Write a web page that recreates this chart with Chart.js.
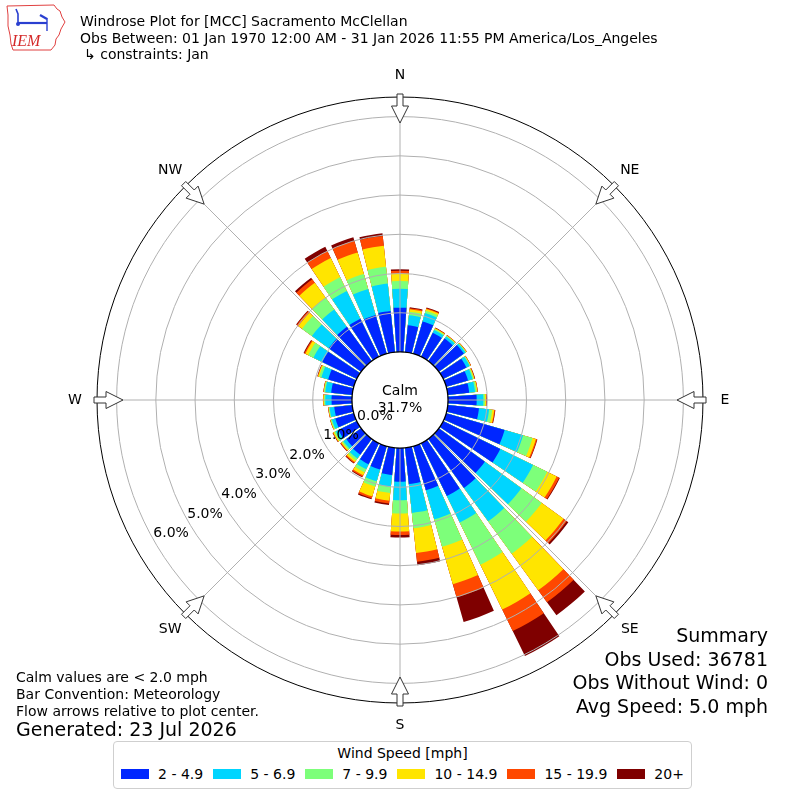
<!DOCTYPE html>
<html>
<head>
<meta charset="utf-8">
<script src="https://cdn.jsdelivr.net/npm/chart.js@4/dist/chart.umd.min.js"></script>
<style>
html,body{margin:0;padding:0;background:#fff;}
body{width:800px;height:800px;position:relative;overflow:hidden;font-family:"DejaVu Sans",sans-serif;color:#000;}
#wrap{position:absolute;left:0;top:0;width:800px;height:800px;}
.t{position:absolute;white-space:nowrap;}
#legend{position:absolute;left:113px;top:741px;width:579px;height:48px;border:1px solid #cfcfcf;border-radius:4px;box-sizing:border-box;background:#fff;}
#legend .title{font-size:14px;line-height:16px;text-align:center;margin-top:3px;}
#legend .items{display:flex;justify-content:center;align-items:center;margin-top:5px;font-size:14px;line-height:16px;gap:10px;}
#legend .it{display:flex;align-items:center;}
#legend .sw{width:28px;height:10px;margin-right:9px;}
</style>
</head>
<body>
<div id="wrap"><canvas id="c"></canvas></div>

<svg class="t" style="left:0;top:0" width="72" height="54" viewBox="0 0 72 54">
  <polygon points="7,6 54,5 57,9 60,11 62,17 65,22 61,29 59,35 56,39 55,45 51,50 13,50 11,44 10,35 8,26 8,15" fill="none" stroke="#e04040" stroke-width="1"/>
  <polyline points="16,9 18,14 18,24" fill="none" stroke="#2a3fd0" stroke-width="1.6"/>
  <line x1="18" y1="23" x2="47" y2="23" stroke="#2a3fd0" stroke-width="2.2"/>
  <line x1="40" y1="15" x2="47" y2="19" stroke="#2a3fd0" stroke-width="2.2"/>
  <line x1="47" y1="18" x2="47" y2="31" stroke="#2a3fd0" stroke-width="1.4"/>
  <circle cx="18" cy="24" r="2" fill="#2a3fd0"/>
  <text x="12" y="46" font-family="Liberation Serif" font-style="italic" font-size="16" fill="#d42a2a">IEM</text>
</svg>
<div class="t" style="left:80px;top:11.5px;font-size:14px;line-height:18px;">Windrose Plot for [MCC] Sacramento McClellan</div>
<div class="t" style="left:80px;top:28.5px;font-size:14px;line-height:18px;">Obs Between: 01 Jan 1970 12:00 AM - 31 Jan 2026 11:55 PM America/Los_Angeles</div>
<div class="t" style="left:84px;top:45px;font-size:14px;line-height:18px;">↳ constraints: Jan</div>

<div class="t" style="left:16px;top:668px;font-size:14px;line-height:18px;">Calm values are &lt; 2.0 mph</div>
<div class="t" style="left:16px;top:685px;font-size:14px;line-height:18px;">Bar Convention: Meteorology</div>
<div class="t" style="left:16px;top:702px;font-size:14px;line-height:18px;">Flow arrows relative to plot center.</div>
<div class="t" style="left:16px;top:717.5px;font-size:19px;line-height:22px;">Generated: 23 Jul 2026</div>

<div class="t" style="right:32px;top:624px;font-size:19px;line-height:23px;text-align:right;">Summary</div>
<div class="t" style="right:32px;top:647.5px;font-size:19px;line-height:23px;text-align:right;">Obs Used: 36781</div>
<div class="t" style="right:32px;top:671px;font-size:19px;line-height:23px;text-align:right;">Obs Without Wind: 0</div>
<div class="t" style="right:32px;top:694.5px;font-size:19px;line-height:23px;text-align:right;">Avg Speed: 5.0 mph</div>

<div id="legend"><div class="title">Wind Speed [mph]</div><div class="items" id="items"></div></div>

<script>
// ---- data (percent of observations) ----
const directions = [0,10,20,30,40,50,60,70,80,90,100,110,120,130,140,150,160,170,180,190,200,210,220,230,240,250,260,270,280,290,300,310,320,330,340,350];
const speedBins = ['2 - 4.9', '5 - 6.9', '7 - 9.9', '10 - 14.9', '15 - 19.9', '20+'];
const binColors = ['#0026ff', '#00d5ff', '#7dff7a', '#ffe500', '#ff4800', '#7f0000'];
const speed2to5   = [1.13,0.69,0.86,0.68,0.71,0.79,0.66,0.58,0.55,0.73,0.80,1.55,1.62,1.45,1.55,1.50,1.17,0.93,0.86,0.70,0.62,0.60,0.50,0.47,0.52,0.49,0.46,0.52,0.54,0.68,0.98,1.02,1.08,1.08,1.03,1.06];
const speed5to7   = [0.48,0.26,0.22,0.08,0.07,0.05,0.09,0.12,0.15,0.17,0.26,0.49,0.93,1.15,1.05,0.75,0.77,0.74,0.47,0.30,0.31,0.14,0.12,0.09,0.08,0.09,0.12,0.16,0.15,0.18,0.25,0.53,0.55,0.79,0.69,0.70];
const speed7to10  = [0.20,0.09,0.06,0.03,0.02,0.02,0.02,0.03,0.04,0.04,0.08,0.25,0.40,0.64,1.02,1.20,0.73,0.39,0.34,0.16,0.14,0.09,0.06,0.04,0.04,0.03,0.02,0.03,0.03,0.06,0.15,0.31,0.37,0.39,0.40,0.43];
const speed10to15 = [0.19,0.06,0.05,0.02,0.01,0.01,0.01,0.02,0.02,0.03,0.05,0.09,0.27,0.69,1.15,1.27,0.99,0.64,0.46,0.20,0.26,0.08,0.05,0.03,0.03,0.01,0.01,0.02,0.01,0.03,0.08,0.12,0.47,0.54,0.57,0.54];
const speed15to20 = [0.07,0.03,0.02,0.01,0.01,0.01,0.01,0.01,0.01,0.01,0.02,0.03,0.07,0.10,0.38,0.61,0.35,0.22,0.09,0.07,0.05,0.04,0.03,0.02,0.01,0.01,0.01,0.01,0.01,0.01,0.03,0.05,0.11,0.20,0.31,0.25];
const speed20plus = [0.04,0.02,0.02,0.01,0.00,0.00,0.00,0.01,0.00,0.01,0.01,0.01,0.02,0.05,0.41,0.71,0.65,0.09,0.06,0.04,0.03,0.02,0.02,0.01,0.01,0.00,0.00,0.00,0.00,0.01,0.02,0.02,0.05,0.12,0.09,0.07];
const ringTicks = [0,1,2,3,4,5,6];
const compassLabels = ['N','NE','E','SE','S','SW','W','NW'];
const calmPercent = 31.7;

// ---- build stacked (cumulative) datasets, bars interleaved with gaps ----
const series = [speed2to5, speed5to7, speed7to10, speed10to15, speed15to20, speed20plus];
const labels = [];
directions.forEach(d => { labels.push(d + '°'); labels.push(''); });
const running = directions.map(() => 0);
const datasets = series.map((vals, k) => {
  const data = [];
  vals.forEach((v, i) => { running[i] += v; data.push(+running[i].toFixed(3)); data.push(0); });
  return {
    label: speedBins[k],
    data: data,
    backgroundColor: ctx => (ctx.dataIndex % 2 ? 'rgba(0,0,0,0)' : binColors[k]),
    borderWidth: 0,
    angle: ctx => (ctx.dataIndex % 2 ? 2 : 8)
  };
});

// legend
const items = document.getElementById('items');
speedBins.forEach((lab, k) => {
  const it = document.createElement('div'); it.className = 'it';
  const sw = document.createElement('div'); sw.className = 'sw'; sw.style.background = binColors[k];
  const tx = document.createElement('span'); tx.textContent = lab;
  it.appendChild(sw); it.appendChild(tx); items.appendChild(it);
});

const overlay = {
  id: 'roseOverlay',
  afterDatasetsDraw(chart) {
    const s = chart.scales.r;
    const ctx = chart.ctx;
    const cx = s.xCenter, cy = s.yCenter;
    const r0 = s.getDistanceFromCenterForValue(0);
    const rOut = s.getDistanceFromCenterForValue(s.max);
    const P = (deg, r) => { const a = deg * Math.PI / 180; return [cx + r * Math.sin(a), cy - r * Math.cos(a)]; };
    ctx.save();
    // calm disc
    ctx.beginPath(); ctx.arc(cx, cy, r0, 0, 2 * Math.PI); ctx.fillStyle = '#fff'; ctx.fill();
    // rings
    ctx.strokeStyle = '#b0b0b0'; ctx.lineWidth = 1;
    ringTicks.forEach(v => {
      if (v <= 0) return;
      ctx.beginPath(); ctx.arc(cx, cy, s.getDistanceFromCenterForValue(v), 0, 2 * Math.PI); ctx.stroke();
    });
    // angle lines
    for (let k = 0; k < 8; k++) {
      const a = P(k * 45, r0), b = P(k * 45, rOut);
      ctx.beginPath(); ctx.moveTo(a[0], a[1]); ctx.lineTo(b[0], b[1]); ctx.stroke();
    }
    // outer circle and calm border
    ctx.strokeStyle = '#000'; ctx.lineWidth = 1;
    ctx.beginPath(); ctx.arc(cx, cy, rOut, 0, 2 * Math.PI); ctx.stroke();
    ctx.lineWidth = 1.3;
    ctx.beginPath(); ctx.arc(cx, cy, r0, 0, 2 * Math.PI); ctx.stroke();
    // calm text
    ctx.fillStyle = '#000'; ctx.textAlign = 'center'; ctx.textBaseline = 'middle';
    ctx.font = '14px "DejaVu Sans"';
    ctx.fillText('Calm', cx, cy - 9);
    ctx.fillText(calmPercent.toFixed(1) + '%', cx, cy + 8);
    // radial tick labels
    ringTicks.forEach(v => {
      const p = P(240, s.getDistanceFromCenterForValue(v));
      ctx.fillText(v.toFixed(1) + '%', p[0] + 16.5, p[1] - 8);
    });
    // arrows and compass labels
    compassLabels.forEach((lab, k) => {
      const deg = k * 45;
      const a = deg * Math.PI / 180;
      const ux = -Math.sin(a), uy = Math.cos(a); // inward
      const vx = -uy, vy = ux;
      const tail = P(deg, rOut + 3);
      const L = 29, Ls = 12, hw = 3, HW = 8.5;
      const pts = [[0, -hw], [Ls, -hw], [Ls, -HW], [L, 0], [Ls, HW], [Ls, hw], [0, hw]];
      ctx.beginPath();
      pts.forEach((q, i) => {
        const x = tail[0] + q[0] * ux + q[1] * vx, y = tail[1] + q[0] * uy + q[1] * vy;
        if (i === 0) ctx.moveTo(x, y); else ctx.lineTo(x, y);
      });
      ctx.closePath();
      ctx.fillStyle = '#fff'; ctx.fill();
      ctx.strokeStyle = '#333'; ctx.lineWidth = 1; ctx.stroke();
      const lp = P(deg, rOut + 22);
      ctx.fillStyle = '#000';
      ctx.fillText(lab, lp[0], lp[1]);
    });
    ctx.restore();
  }
};

new Chart(document.getElementById('c'), {
  type: 'polarArea',
  data: { labels: labels, datasets: datasets },
  options: {
    responsive: true,
    maintainAspectRatio: false,
    animation: false,
    layout: { padding: { left: 97, right: 97, top: 97, bottom: 97 } },
    plugins: { legend: { display: false }, tooltip: { enabled: false } },
    scales: {
      r: {
        min: -1.2245,
        max: 6.5,
        startAngle: -4,
        ticks: { display: false },
        grid: { display: false },
        angleLines: { display: false },
        pointLabels: { display: false }
      }
    }
  },
  plugins: [overlay]
});
</script>
</body>
</html>
